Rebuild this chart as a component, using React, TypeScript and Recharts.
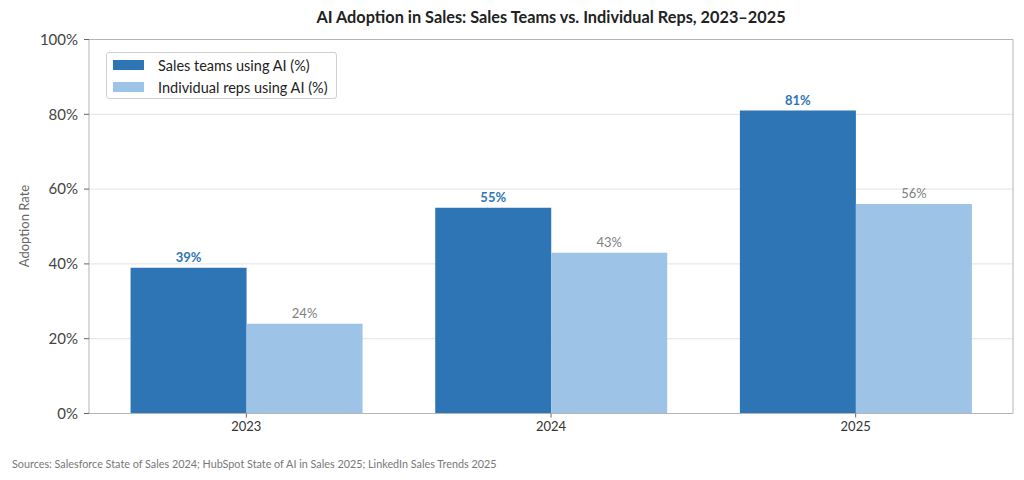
import React from "react";
import {
  BarChart,
  Bar,
  XAxis,
  YAxis,
  CartesianGrid,
  LabelList,
  ReferenceLine,
} from "recharts";

const years = ["2023", "2024", "2025"];
const salesTeams = [39, 55, 81];
const individualReps = [24, 43, 56];
const yTicks = [0, 20, 40, 60, 80, 100];

const seriesNames = ["Sales teams using AI (%)", "Individual reps using AI (%)"];
const DARK = "#2E75B6";
const LIGHT = "#9DC3E6";
const FONT = "Lato, 'Noto Sans', sans-serif";

const data = years.map((y, i) => ({
  year: y,
  teams: salesTeams[i],
  reps: individualReps[i],
}));

const LegendBox = () => (
  <div
    style={{
      position: "absolute",
      left: 106,
      top: 52,
      width: 231,
      height: 47,
      boxSizing: "border-box",
      border: "1px solid #d0d0d0",
      borderRadius: 3,
      background: "#fff",
      padding: "1px 0 0 6px",
      fontFamily: FONT,
      fontSize: 14.5,
      color: "#222",
    }}
  >
    {[DARK, LIGHT].map((c, i) => (
      <div key={i} style={{ display: "flex", alignItems: "center", height: 22 }}>
        <span style={{ width: 31, height: 10, background: c, display: "inline-block", marginRight: 14 }} />
        <span>{seriesNames[i]}</span>
      </div>
    ))}
  </div>
);

export default function App() {
  return (
    <div style={{ position: "absolute", left: 0, top: 0, width: 1024, height: 480, background: "#fff", fontFamily: FONT }}>
      <BarChart
        width={1024}
        height={480}
        data={data}
        margin={{ top: 39.5, left: 29, right: 10, bottom: 36.5 }}
        barCategoryGap="12%"
        barGap={0}
      >
        <text x={551} y={23} textAnchor="middle" fontFamily={FONT} fontWeight="bold" fontSize={16.3} fill="#222">
          AI Adoption in Sales: Sales Teams vs. Individual Reps, 2023–2025
        </text>
        <text
          x={29}
          y={226}
          textAnchor="middle"
          transform="rotate(-90 29 226)"
          fontFamily={FONT}
          fontSize={13}
          fill="#666"
        >
          Adoption Rate
        </text>
        <text x={12} y={468} fontFamily={FONT} fontSize={10.8} fill="#777">
          Sources: Salesforce State of Sales 2024; HubSpot State of AI in Sales 2025; LinkedIn Sales Trends 2025
        </text>
        <CartesianGrid vertical={false} stroke="#e3e3e3" />
        <XAxis
          dataKey="year"
          padding={{ left: 5, right: 5 }}
          height={30}
          axisLine={{ stroke: "#b5b5b5" }}
          tickLine={{ stroke: "#666" }}
          tickSize={4}
          tick={{ fill: "#333", fontSize: 13, fontFamily: FONT }}
          tickMargin={4}
        />
        <YAxis
          width={60}
          domain={[0, 100]}
          ticks={yTicks}
          tickFormatter={(v) => `${v}%`}
          axisLine={{ stroke: "#b5b5b5" }}
          tickLine={{ stroke: "#666" }}
          tickSize={5}
          tickMargin={6}
          tick={{ fill: "#444", fontSize: 15, fontFamily: FONT }}
        />
        <YAxis
          yAxisId="right"
          orientation="right"
          width={1}
          domain={[0, 100]}
          tick={false}
          tickLine={false}
          axisLine={{ stroke: "#b5b5b5" }}
        />
        <ReferenceLine y={100} stroke="#b5b5b5" />
        <Bar dataKey="teams" name={seriesNames[0]} fill={DARK} isAnimationActive={false}>
          <LabelList
            dataKey="teams"
            position="top"
            offset={6}
            formatter={(v) => `${v}%`}
            fill={DARK}
            fontWeight="bold"
            fontSize={13}
            fontFamily={FONT}
          />
        </Bar>
        <Bar dataKey="reps" name={seriesNames[1]} fill={LIGHT} isAnimationActive={false}>
          <LabelList
            dataKey="reps"
            position="top"
            offset={6}
            formatter={(v) => `${v}%`}
            fill="#808080"
            fontSize={13}
            fontFamily={FONT}
          />
        </Bar>
      </BarChart>
      <LegendBox />
    </div>
  );
}
